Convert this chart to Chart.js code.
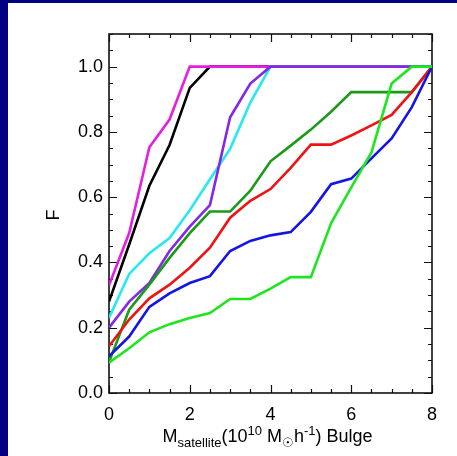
<!DOCTYPE html>
<html>
<head>
<meta charset="utf-8">
<script src="https://cdn.jsdelivr.net/npm/chart.js@4.4.0/dist/chart.umd.min.js"></script>
<style>
  html, body { margin: 0; padding: 0; background: #000080; width: 457px; height: 456px; overflow: hidden; }
  #wrap { position: absolute; left: 8px; top: 3px; width: 449px; height: 453px; background: #fff; }
</style>
</head>
<body>
<div id="wrap"><canvas id="c" width="449" height="453"></canvas></div>
<script>
// satellite bulge mass bins (10^10 Msun/h)
const massBins = [0, 0.5, 1, 1.5, 2, 2.5, 3, 3.5, 4, 4.5, 5, 5.5, 6, 6.5, 7, 7.5, 8];

// cumulative fraction F, one list per curve
const fBlack   = [0.28, 0.455, 0.635, 0.76, 0.935, 1, 1, 1, 1, 1, 1, 1, 1, 1, 1, 1, 1];
const fMagenta = [0.33, 0.49, 0.753, 0.838, 1, 1, 1, 1, 1, 1, 1, 1, 1, 1, 1, 1, 1];
const fCyan    = [0.23, 0.365, 0.428, 0.475, 0.56, 0.655, 0.748, 0.89, 1, 1, 1, 1, 1, 1, 1, 1, 1];
const fPurple  = [0.2, 0.28, 0.337, 0.435, 0.51, 0.576, 0.845, 0.948, 1, 1, 1, 1, 1, 1, 1, 1, 1];
const fDkGreen = [0.095, 0.255, 0.332, 0.414, 0.49, 0.556, 0.556, 0.62, 0.71, 0.758, 0.807, 0.862, 0.922, 0.922, 0.922, 0.922, 1];
const fRed     = [0.143, 0.225, 0.29, 0.332, 0.384, 0.445, 0.537, 0.589, 0.625, 0.69, 0.761, 0.761, 0.789, 0.82, 0.852, 0.922, 1];
const fBlue    = [0.112, 0.173, 0.264, 0.305, 0.337, 0.358, 0.435, 0.466, 0.483, 0.493, 0.555, 0.64, 0.657, 0.719, 0.78, 0.876, 1];
const fLtGreen = [0.093, 0.137, 0.186, 0.211, 0.23, 0.245, 0.288, 0.288, 0.32, 0.355, 0.355, 0.52, 0.63, 0.737, 0.948, 1, 1];

const yTickLabels = ['0.0', '0.2', '0.4', '0.6', '0.8', '1.0'];

const FONT = "'Liberation Sans', Arial, Helvetica, sans-serif";

function pts(vals) {
  return massBins.map((x, i) => ({ x, y: vals[i] }));
}

// first entry is drawn on top
const series = [
  [fLtGreen, '#1ee61e'],
  [fBlue, '#1414e6'],
  [fRed, '#ee1212'],
  [fDkGreen, '#1a9a1a'],
  [fPurple, '#8228e6'],
  [fCyan, '#28e8f0'],
  [fMagenta, '#e61ee0'],
  [fBlack, '#000000']
];

// inward IDL-style ticks on all four sides, plus the box
const frameTicks = {
  id: 'frameTicks',
  beforeDatasetsDraw(chart) {
    const { ctx, chartArea: a, scales: { x, y } } = chart;
    ctx.save();
    ctx.strokeStyle = '#111';
    ctx.lineWidth = 1.2;
    ctx.beginPath();
    for (let i = 0; i <= 16; i++) {
      const v = i * 0.5;
      const px = Math.round(x.getPixelForValue(v)) + 0.5;
      const len = i % 4 === 0 ? 8 : 4;
      ctx.moveTo(px, a.bottom); ctx.lineTo(px, a.bottom - len);
      ctx.moveTo(px, a.top); ctx.lineTo(px, a.top + len);
    }
    for (let i = 0; i <= 22; i++) {
      const v = i * 0.05;
      const py = Math.round(y.getPixelForValue(v)) + 0.5;
      const len = i % 4 === 0 ? 8 : 4;
      ctx.moveTo(a.left, py); ctx.lineTo(a.left + len, py);
      ctx.moveTo(a.right, py); ctx.lineTo(a.right - len, py);
    }
    ctx.stroke();
    ctx.lineWidth = 1.6;
    ctx.strokeRect(a.left, a.top, a.right - a.left, a.bottom - a.top);
    ctx.restore();
  },
  afterDraw(chart) {
    const ctx = chart.ctx;
    ctx.save();
    ctx.fillStyle = '#000';
    // y title
    ctx.translate(50.5, 212);
    ctx.rotate(-Math.PI / 2);
    ctx.font = '18px ' + FONT;
    ctx.textAlign = 'center';
    ctx.textBaseline = 'alphabetic';
    ctx.fillText('F', 0, 0);
    ctx.restore();

    // x title with sub/superscripts
    const parts = [
      ['M', 18, 0], ['satellite', 13, 5], ['(10', 18, 0], ['10', 13, -7],
      [' M', 18, 0], ['\u2609', 13, 5], ['h', 18, 0], ['-1', 13, -7], [') Bulge', 18, 0]
    ];
    ctx.save();
    ctx.fillStyle = '#000';
    ctx.textAlign = 'left';
    ctx.textBaseline = 'alphabetic';
    let total = 0;
    parts.forEach(p => {
      ctx.font = p[1] + 'px ' + FONT;
      p.w = ctx.measureText(p[0]).width;
      total += p.w;
    });
    let xp = 259.5 - total / 2;
    parts.forEach(p => {
      ctx.font = p[1] + 'px ' + FONT;
      ctx.fillText(p[0], xp, 439 + p[2]);
      xp += p.w;
    });
    ctx.restore();
  }
};

new Chart(document.getElementById('c'), {
  type: 'line',
  data: {
    datasets: series.map(([vals, col]) => ({
      data: pts(vals),
      borderColor: col,
      backgroundColor: col,
      borderWidth: 2.6,
      pointRadius: 0,
      tension: 0,
      fill: false
    }))
  },
  options: {
    responsive: false,
    devicePixelRatio: 1,
    animation: false,
    layout: { padding: { left: 0, top: 31, right: 25, bottom: 0 } },
    plugins: { legend: { display: false }, tooltip: { enabled: false } },
    scales: {
      x: {
        type: 'linear', min: 0, max: 8,
        grid: { display: false, drawTicks: false, tickLength: 0 },
        border: { display: false },
        ticks: { stepSize: 2, color: '#000', padding: 11, font: { family: FONT, size: 18 }, maxRotation: 0,
                  callback: v => String(v) },
        afterFit: s => { s.height = 63; }
      },
      y: {
        type: 'linear', min: 0, max: 1.1,
        grid: { display: false, drawTicks: false, tickLength: 0 },
        border: { display: false },
        ticks: { stepSize: 0.2, color: '#000', padding: 6, font: { family: FONT, size: 18 },
                 callback: (v) => yTickLabels[Math.round(v / 0.2)] || '' },
        afterBuildTicks: s => { s.ticks = s.ticks.filter(t => t.value <= 1.0001); },
        afterFit: s => { s.width = 101; }
      }
    }
  },
  plugins: [frameTicks]
});
</script>
</body>
</html>
